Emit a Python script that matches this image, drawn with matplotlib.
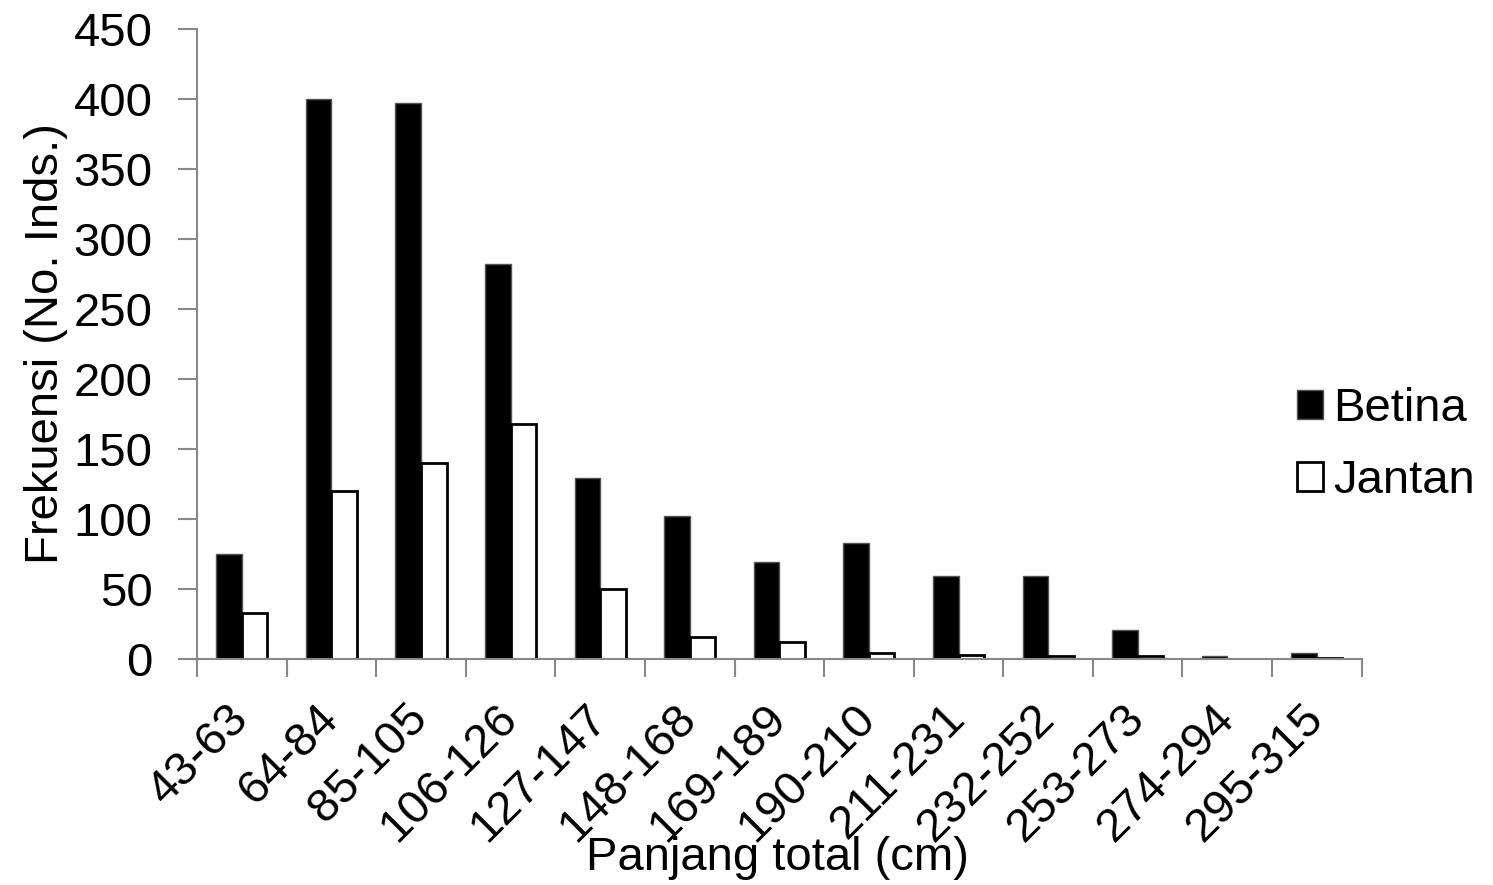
import numpy as np
import matplotlib.pyplot as plt
from matplotlib.transforms import ScaledTranslation

plt.rcParams['font.family'] = ['Liberation Sans', 'DejaVu Sans']

# kelas panjang total (cm)
classes = ["43-63", "64-84", "85-105", "106-126", "127-147", "148-168",
           "169-189", "190-210", "211-231", "232-252", "253-273", "274-294",
           "295-315"]
betina = [75, 400, 397, 282, 129, 102, 69, 83, 59, 59, 21, 2, 4]
jantan = [33, 120, 140, 168, 50, 16, 12, 4, 3, 2, 2, 0, 1]

fs = 34

fig = plt.figure(figsize=(14.93, 8.85), dpi=100)
ax = fig.add_axes([0.132, 0.2554, 0.780, 0.7118])

x = np.arange(len(classes))
w = 0.285
ax.bar(x - w / 2, betina, w, color="black", edgecolor="#555555", linewidth=1,
       label="Betina")
ax.bar(x + w / 2, jantan, w, color="white", edgecolor="black", linewidth=2,
       label="Jantan")

ax.set_xlim(-0.5, len(classes) - 0.5)
ax.set_ylim(0, 450)
ax.set_yticks(range(0, 451, 50))
ax.tick_params(axis="y", labelsize=fs, length=14, width=1.5, color="#888888",
               pad=18, direction="out")

# category boundaries carry the tick marks, labels sit at the centres
ax.set_xticks(x)
ax.set_xticklabels(classes, rotation=45, ha="right", va="center",
                   rotation_mode="anchor", fontsize=fs)
shift = ScaledTranslation(-6 / 100, 0, fig.dpi_scale_trans)
for lab in ax.get_xticklabels():
    lab.set_transform(lab.get_transform() + shift)
ax.tick_params(axis="x", which="major", length=0, pad=38)
ax.set_xticks(np.arange(len(classes) + 1) - 0.5, minor=True)
ax.tick_params(axis="x", which="minor", length=13, width=1.5, color="#888888",
               direction="out")

for s in ["top", "right"]:
    ax.spines[s].set_visible(False)
for s in ["left", "bottom"]:
    ax.spines[s].set_color("#888888")
    ax.spines[s].set_linewidth(1.5)

ax.set_ylabel("Frekuensi (No. Inds.)", fontsize=fs, labelpad=4)
fig.text(0.521, 0.031, "Panjang total (cm)", fontsize=fs, ha="center",
         va="center")

fig.legend(loc="center left", bbox_to_anchor=(0.8687, 0.497), frameon=False,
           fontsize=fs, handlelength=0.55, handleheight=0.55,
           handletextpad=0.22, labelspacing=0.6, borderpad=0, borderaxespad=0)

fig.savefig("out.png", dpi=100)
